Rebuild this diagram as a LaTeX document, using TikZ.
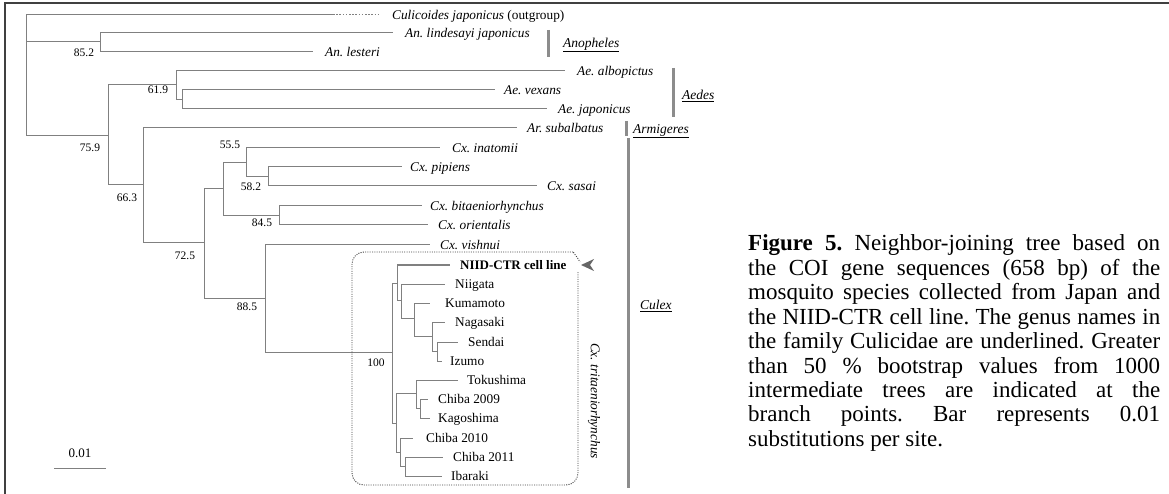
\documentclass[tikz,border=0pt]{standalone}
\usepackage{fontspec}
\setmainfont{Liberation Serif}
\frenchspacing
\begin{document}
\begin{tikzpicture}[x=1pt,y=-1pt,
  br/.style={draw=black!50, line width=1pt},
  lab/.style={anchor=base west, inner sep=0pt, yshift=-4.3pt, font=\fontsize{13.3}{15}\selectfont\itshape},
  plab/.style={anchor=base west, inner sep=0pt, yshift=-4.3pt, font=\fontsize{13.3}{15}\selectfont},
  bs/.style={inner sep=0pt, font=\fontsize{11.5}{13}\selectfont},
  gbar/.style={draw=black!45, line width=3pt},
  genus/.style={anchor=base west, inner sep=0pt, yshift=-4.3pt, font=\fontsize{13.5}{15}\selectfont\itshape},
  captxt/.style={anchor=base west, inner sep=0pt, font=\fontsize{23}{24}\selectfont},
]
\useasboundingbox (0,0) rectangle (1169,494);
% frame
\draw[black!75, line width=1.3pt] (5,494) -- (5,3) -- (1169,3);

% internal nodes
\coordinate (R) at (26,15);
\coordinate (nAn) at (100,42);
\coordinate (n759) at (108,136);
\coordinate (nAe) at (176,85);
\coordinate (n619) at (182,99.5);
\coordinate (n663) at (143,185);
\coordinate (n725) at (204,243);
\coordinate (nCx) at (223,189);
\coordinate (n555) at (246,163);
\coordinate (n582) at (268,176.5);
\coordinate (n845) at (279,215.5);
\coordinate (n885) at (265,298);
\coordinate (nA) at (392,352);
\coordinate (nB) at (397,283);
\coordinate (nC) at (401,300);
\coordinate (nD) at (414,318);
\coordinate (nE) at (432,336);
\coordinate (nF) at (437,351.5);
\coordinate (nG) at (396,423);
\coordinate (nH) at (416,393);
\coordinate (nJ) at (420,408.5);
\coordinate (nI) at (400,452);
\coordinate (nK) at (405,466.5);

% tips
\coordinate (c1) at (333,15);
\coordinate (t1) at (380,15);
\coordinate (t2) at (393,33);
\coordinate (t3) at (313,52);
\coordinate (t4) at (565,71);
\coordinate (t5) at (495,90);
\coordinate (t6) at (547,109);
\coordinate (t7) at (517,128);
\coordinate (t8) at (440,148);
\coordinate (t9) at (402,167);
\coordinate (t10) at (537,186);
\coordinate (t11) at (422,206);
\coordinate (t12) at (428,225);
\coordinate (t13) at (430,245);
\coordinate (t14) at (450,265);
\coordinate (t15) at (445,284);
\coordinate (t16) at (430,303);
\coordinate (t17) at (445,322);
\coordinate (t18) at (458,342);
\coordinate (t19) at (442,361);
\coordinate (t20) at (458,380);
\coordinate (t21) at (428,399);
\coordinate (t22) at (430,418);
\coordinate (t23) at (413,438);
\coordinate (t24) at (443,457);
\coordinate (t25) at (442,476);

% labels
\node[lab] (l1) at (392,15) {Culicoides japonicus \upshape(outgroup)};
\node[lab] (l2) at (405,33) {An. lindesayi japonicus};
\node[lab] (l3) at (325,52) {An. lesteri};
\node[lab] (l4) at (577,71) {Ae. albopictus};
\node[lab] (l5) at (504,90) {Ae. vexans};
\node[lab] (l6) at (558,109) {Ae. japonicus};
\node[lab] (l7) at (527,128) {Ar. subalbatus};
\node[lab] (l8) at (452,148) {Cx. inatomii};
\node[lab] (l9) at (410,167) {Cx. pipiens};
\node[lab] (l10) at (547,186) {Cx. sasai};
\node[lab] (l11) at (430,206) {Cx. bitaeniorhynchus};
\node[lab] (l12) at (438,225) {Cx. orientalis};
\node[lab] (l13) at (440,245) {Cx. vishnui};
\node[plab, font=\fontsize{13}{15}\selectfont\bfseries] (l14) at (460,265) {NIID-CTR cell line};
\node[plab] (l15) at (455,284) {Niigata};
\node[plab] (l16) at (445,303) {Kumamoto};
\node[plab] (l17) at (455,322) {Nagasaki};
\node[plab] (l18) at (468,342) {Sendai};
\node[plab] (l19) at (450,361) {Izumo};
\node[plab] (l20) at (467,380) {Tokushima};
\node[plab] (l21) at (438,399) {Chiba 2009};
\node[plab] (l22) at (438,418) {Kagoshima};
\node[plab] (l23) at (426,438) {Chiba 2010};
\node[plab] (l24) at (453,457) {Chiba 2011};
\node[plab] (l25) at (451,476) {Ibaraki};

% branches
\draw[br] (R) |- (c1);
\draw[br, dash pattern=on 1.6pt off 1.6pt] (c1) -- (t1);
\draw[br] (R) |- (nAn);  \draw[br] (R) |- (n759);
\draw[br] (nAn) |- (t2); \draw[br] (nAn) |- (t3);
\draw[br] (n759) |- (nAe); \draw[br] (n759) |- (n663);
\draw[br] (nAe) |- (t4); \draw[br] (nAe) |- (n619);
\draw[br] (n619) |- (t5); \draw[br] (n619) |- (t6);
\draw[br] (n663) |- (t7); \draw[br] (n663) |- (n725);
\draw[br] (n725) |- (nCx); \draw[br] (n725) |- (n885);
\draw[br] (nCx) |- (n555); \draw[br] (nCx) |- (n845);
\draw[br] (n555) |- (t8); \draw[br] (n555) |- (n582);
\draw[br] (n582) |- (t9); \draw[br] (n582) |- (t10);
\draw[br] (n845) |- (t11); \draw[br] (n845) |- (t12);
\draw[br] (n885) |- (t13); \draw[br] (n885) |- (nA);
\draw[br] (nA) |- (nB); \draw[br] (nA) |- (nG);
\draw[br] (nB) |- (t14); \draw[br] (nB) |- (nC);
\draw[br] (nC) |- (t15); \draw[br] (nC) |- (nD);
\draw[br] (nD) |- (t16); \draw[br] (nD) |- (nE);
\draw[br] (nE) |- (t17); \draw[br] (nE) |- (nF);
\draw[br] (nF) |- (t18); \draw[br] (nF) |- (t19);
\draw[br] (nG) |- (nH); \draw[br] (nG) |- (nI);
\draw[br] (nH) |- (t20); \draw[br] (nH) |- (nJ);
\draw[br] (nJ) |- (t21); \draw[br] (nJ) |- (t22);
\draw[br] (nI) |- (t23); \draw[br] (nI) |- (nK);
\draw[br] (nK) |- (t24); \draw[br] (nK) |- (t25);

% bootstrap values
\node[bs] (b1) at (84,53) {85.2};
\node[bs] (b2) at (158,90) {61.9};
\node[bs] (b3) at (90,148) {75.9};
\node[bs] (b4) at (230,145) {55.5};
\node[bs] (b5) at (127,198) {66.3};
\node[bs] (b6) at (251,187) {58.2};
\node[bs] (b7) at (262,223) {84.5};
\node[bs] (b8) at (185,256) {72.5};
\node[bs] (b9) at (247,307) {88.5};
\node[bs] (b10) at (376,363) {100};

% clade box (top-right corner curving into the arrow) and arrow
\draw[black!75, line width=0.9pt, dash pattern=on 1pt off 1.3pt, rounded corners=12pt]
  (578,272) -- (578,485) -- (352,485) -- (352,252) -- (562,252)
  [sharp corners] .. controls (572,252) and (577,256) .. (580,262);
\fill[black!60] (581,265) -- (594,259) -- (590,265) -- (594,271) -- cycle;
\node[inner sep=0pt, rotate=-90, font=\fontsize{13.3}{15}\selectfont\itshape] (tri) at (594,401) {Cx. tritaeniorhynchus};

% genus bars
\coordinate (gA1) at (548,30); \coordinate (gA2) at (548,57);
\coordinate (gE1) at (673,68); \coordinate (gE2) at (673,117);
\coordinate (gR1) at (626,121); \coordinate (gR2) at (626,136);
\coordinate (gC1) at (628,138); \coordinate (gC2) at (628,488);
\draw[gbar] (gA1) -- (gA2);
\draw[gbar] (gE1) -- (gE2);
\draw[gbar] (gR1) -- (gR2);
\draw[gbar] (gC1) -- (gC2);
\node[genus] (gAn) at (563,43) {\underline{Anopheles}};
\node[genus] (gAe) at (682,95) {\underline{Aedes}};
\node[genus] (gAr) at (633,129) {\underline{Armigeres}};
\node[genus] (gCu) at (640,305) {\underline{Culex}};

% scale bar
\node[inner sep=0pt, font=\fontsize{13}{15}\selectfont] (sc) at (80,453) {0.01};
\coordinate (s1) at (54,468); \coordinate (s2) at (106,468);
\draw[br] (s1) -- (s2);

% caption
\node[captxt] (cap1) at (748,251) {\makebox[412pt][s]{\textbf{Figure 5.} Neighbor-joining tree based on}};
\node[captxt] (cap2) at (748,275.4) {\makebox[412pt][s]{the COI gene sequences (658 bp) of the}};
\node[captxt] (cap3) at (748,299.8) {\makebox[412pt][s]{mosquito species collected from Japan and}};
\node[captxt] (cap4) at (748,324.2) {\makebox[412pt][s]{the NIID-CTR cell line. The genus names in}};
\node[captxt] (cap5) at (748,348.6) {\makebox[412pt][s]{the family Culicidae are underlined. Greater}};
\node[captxt] (cap6) at (748,373) {\makebox[412pt][s]{than 50 \% bootstrap values from 1000}};
\node[captxt] (cap7) at (748,397.4) {\makebox[412pt][s]{intermediate trees are indicated at the}};
\node[captxt] (cap8) at (748,421.8) {\makebox[412pt][s]{branch points. Bar represents 0.01}};
\node[captxt] (cap9) at (748,446.2) {substitutions per site.};
\end{tikzpicture}
\end{document}
